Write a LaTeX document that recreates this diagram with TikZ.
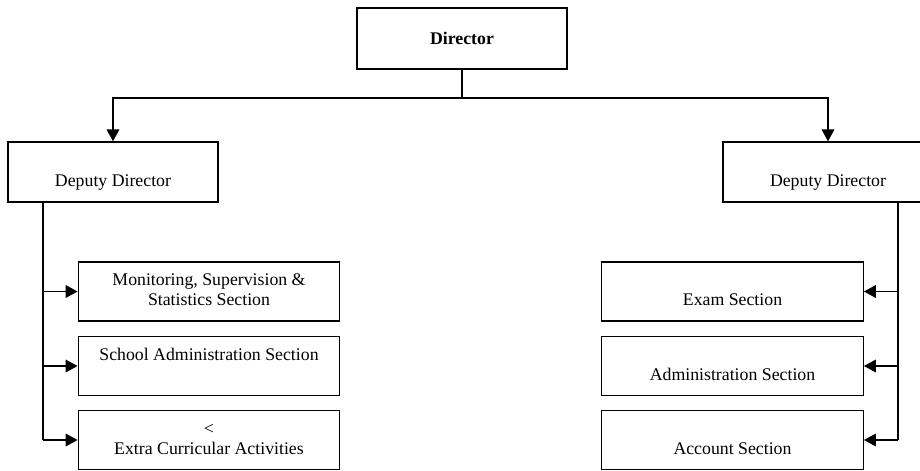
\documentclass[tikz,border=0pt]{standalone}
\usepackage{fontspec}
\setmainfont{Liberation Serif}
\usetikzlibrary{
		calc,
		positioning,
		arrows.meta
	}
\tikzset{
		>={Triangle[length=8pt, width=8.5pt]}
	}
\begin{document}
\begin{tikzpicture}[x={(0.675pt,0)}, y={(0,-0.675pt)}, line width=0.95pt,
					office/.style={draw, inner sep=0pt, align=center, font=\fontsize{12pt}{13.5pt}\selectfont},
					deputy/.style={office, minimum width=141.75pt, minimum height=40.5pt},
					section/.style={office, minimum width=176.5pt, minimum height=39.8pt}]
		\useasboundingbox (0,0) rectangle (920,470);
		\node[office, minimum width=141.75pt, minimum height=41pt] (director) at (462,38.5) {\textbf{Director}};
		\node[deputy] (depL) at (113,172) {\strut\\\strut Deputy Director};
		\node[deputy] (depR) at (828,172) {\strut\\\strut Deputy Director};
		\node[section] (monitoring) at (209,291.5) {\strut Monitoring, Supervision \&\\\strut Statistics Section};
		\node[section] (school) at (209,366) {\strut School Administration Section\\\strut};
		\node[section] (extra) at (209,440) {\strut <\\\strut Extra Curricular Activities};
		\node[section] (exam) at (732.5,291.5) {\strut\\\strut Exam Section};
		\node[section] (admin) at (732.5,366) {\strut\\\strut Administration Section};
		\node[section] (account) at (732.5,440) {\strut\\\strut Account Section};
		\coordinate (split) at (462,98);
		\coordinate (spineL) at (43,0);
		\coordinate (spineR) at (898,0);
		\draw (director.south) -- (split);
		\draw[->] (split) -| (depL.north);
		\draw[->] (split) -| (depR.north);
		\draw (depL.south -| spineL) -- (extra.west -| spineL);
		\draw (depR.south -| spineR) -- (account.east -| spineR);
		\foreach \s in {monitoring, school, extra}
			\draw[->] (\s.west -| spineL) -- (\s.west);
		\foreach \s in {exam, admin, account}
			\draw[->] (\s.east -| spineR) -- (\s.east);
	\end{tikzpicture}
\end{document}
